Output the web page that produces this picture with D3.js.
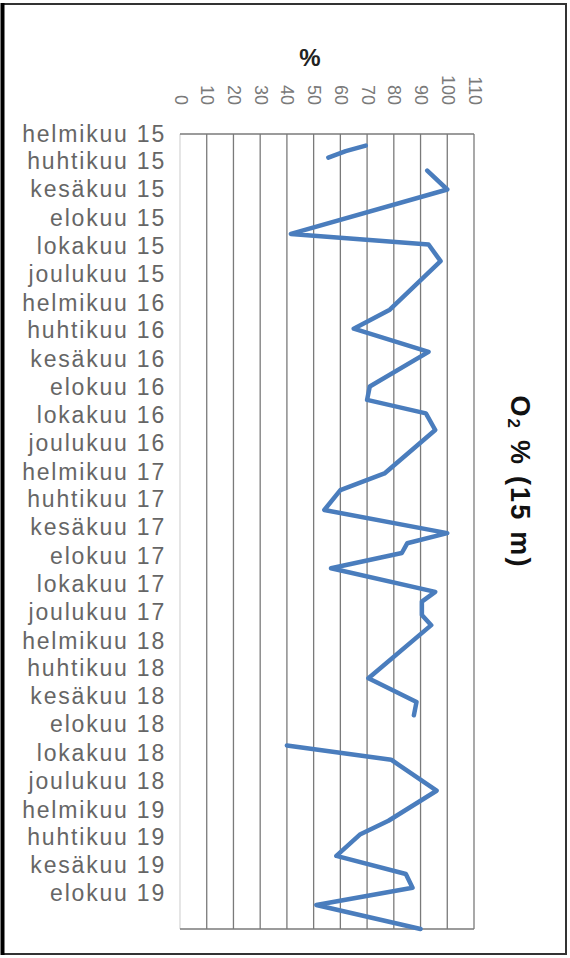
<!DOCTYPE html>
<html>
<head>
<meta charset="utf-8">
<script src="https://cdn.jsdelivr.net/npm/d3@7"></script>
<style>
  html, body { margin: 0; padding: 0; background: #fff; }
  svg { display: block; }
</style>
</head>
<body>
<svg id="chart" width="570" height="958"></svg>
<script>
// ---- data ----
const tickLabels = [
  "helmikuu 15","huhtikuu 15","kesäkuu 15","elokuu 15","lokakuu 15","joulukuu 15",
  "helmikuu 16","huhtikuu 16","kesäkuu 16","elokuu 16","lokakuu 16","joulukuu 16",
  "helmikuu 17","huhtikuu 17","kesäkuu 17","elokuu 17","lokakuu 17","joulukuu 17",
  "helmikuu 18","huhtikuu 18","kesäkuu 18","elokuu 18","lokakuu 18","joulukuu 18",
  "helmikuu 19","huhtikuu 19","kesäkuu 19","elokuu 19"
];
const valueTicks = [0,10,20,30,40,50,60,70,80,90,100,110];
const obsDates = [
  "2015-02-26","2015-03-10","2015-03-24","2015-04-05",
  "2015-04-21","2015-06-01","2015-09-05","2015-09-28","2015-11-03",
  "2016-02-16","2016-03-28","2016-05-17","2016-07-31","2016-08-29","2016-09-27","2016-11-02",
  "2017-02-04","2017-03-12","2017-04-24","2017-06-13","2017-07-05","2017-07-26","2017-08-28",
  "2017-10-18","2017-11-08","2017-12-07","2017-12-29",
  "2018-04-23","2018-06-13","2018-07-12","2018-08-10",
  "2018-09-15","2018-10-16","2018-12-22",
  "2019-02-25","2019-03-26","2019-05-12","2019-06-20","2019-07-20","2019-08-26","2019-10-17"
];
const o2Values = [
  69.5, 62, 55.5, null,
  92.5, 100, 41.5, 93, 97.5,
  78.5, 65, 93, 71, 70, 92, 95.5,
  76.5, 60, 54, 100, 85, 83, 56.5,
  95.5, 90.5, 90.5, 94,
  70.5, 88.5, 87.5, null,
  40, 79, 96,
  78, 67.5, 58.5, 84.5, 87, 51, 90
];
const axisStart = "2015-02-01";
const axisEnd = "2019-10-17";

// ---- setup ----
const parse = d3.timeParse("%Y-%m-%d");
const data = obsDates.map((d, i) => ({ date: parse(d), value: o2Values[i] }));
const labelDates = d3.timeMonth.range(parse(axisStart), parse(axisEnd), 2);

const svg = d3.select("#chart");
const plotLeft = 180, plotRight = 474, plotTop = 134, plotBottom = 929;

const x = d3.scaleLinear().domain([0, 110]).range([plotLeft, plotRight]);
const y = d3.scaleTime().domain([parse(axisStart), parse(axisEnd)]).range([plotTop, plotBottom]);

// frame
svg.append("rect").attr("x", 2).attr("y", 4).attr("width", 564).attr("height", 950)
  .attr("fill", "#fff").attr("stroke", "#333").attr("stroke-width", 2);
svg.append("line").attr("x1", 2.5).attr("x2", 2.5).attr("y1", 3).attr("y2", 955)
  .attr("stroke", "#000").attr("stroke-width", 4);

// gridlines (vertical, one per value tick)
svg.append("g").selectAll("line").data(valueTicks).join("line")
  .attr("x1", d => x(d)).attr("x2", d => x(d))
  .attr("y1", plotTop).attr("y2", plotBottom)
  .attr("stroke", d => d === 0 ? "#d8d8d8" : "#7a7a7a")
  .attr("stroke-width", 1.3);

// top & bottom borders of plot
svg.append("line").attr("x1", plotLeft).attr("x2", plotRight).attr("y1", plotTop).attr("y2", plotTop)
  .attr("stroke", "#7a7a7a").attr("stroke-width", 1.6);
svg.append("line").attr("x1", plotLeft).attr("x2", plotRight).attr("y1", plotBottom).attr("y2", plotBottom)
  .attr("stroke", "#7a7a7a").attr("stroke-width", 1.6);

// value axis labels (rotated, on top)
const topAxis = d3.axisTop(x).tickValues(valueTicks).tickSize(0).tickPadding(29);
const gTop = svg.append("g").attr("transform", `translate(0,${plotTop})`).call(topAxis);
gTop.select(".domain").remove();
gTop.selectAll(".tick text")
  .attr("y", null).attr("dy", null)
  .attr("transform", "translate(0,-29) rotate(90)")
  .attr("text-anchor", "end")
  .attr("dominant-baseline", "central")
  .attr("font-family", "Liberation Sans, Arial, sans-serif")
  .attr("font-size", 18)
  .attr("fill", "#7a7a7a");

// category (date) axis labels on the left
const leftAxis = d3.axisLeft(y).tickValues(labelDates)
  .tickFormat((d, i) => tickLabels[i]).tickSize(0).tickPadding(14);
const gLeft = svg.append("g").attr("transform", `translate(${plotLeft},0)`).call(leftAxis);
gLeft.select(".domain").remove();
gLeft.selectAll(".tick text")
  .attr("font-family", "Liberation Sans, Arial, sans-serif")
  .attr("font-size", 23)
  .attr("letter-spacing", "1.8px")
  .attr("fill", "#666");

// line
const line = d3.line()
  .defined(d => d.value !== null)
  .x(d => x(d.value))
  .y(d => y(d.date));
svg.append("path").datum(data)
  .attr("d", line)
  .attr("fill", "none")
  .attr("stroke", "#4a7dbd")
  .attr("stroke-width", 4.5)
  .attr("stroke-linejoin", "round")
  .attr("stroke-linecap", "round");

// axis title "%"
svg.append("text").attr("x", 310).attr("y", 66)
  .attr("text-anchor", "middle")
  .attr("font-family", "Liberation Sans, Arial, sans-serif")
  .attr("font-weight", "bold").attr("font-size", 24)
  .attr("fill", "#222").text("%");

// chart title (rotated)
const title = svg.append("text")
  .attr("transform", "translate(520,482) rotate(90)")
  .attr("text-anchor", "middle")
  .attr("dominant-baseline", "central")
  .attr("font-family", "Liberation Sans, Arial, sans-serif")
  .attr("font-weight", "bold").attr("font-size", 27)
  .attr("letter-spacing", "2.2px")
  .attr("fill", "#111");
title.append("tspan").text("O");
title.append("tspan").attr("font-size", 17).attr("dy", 6).text("2");
title.append("tspan").attr("dy", -6).text(" % (15 m)");
</script>
</body>
</html>
